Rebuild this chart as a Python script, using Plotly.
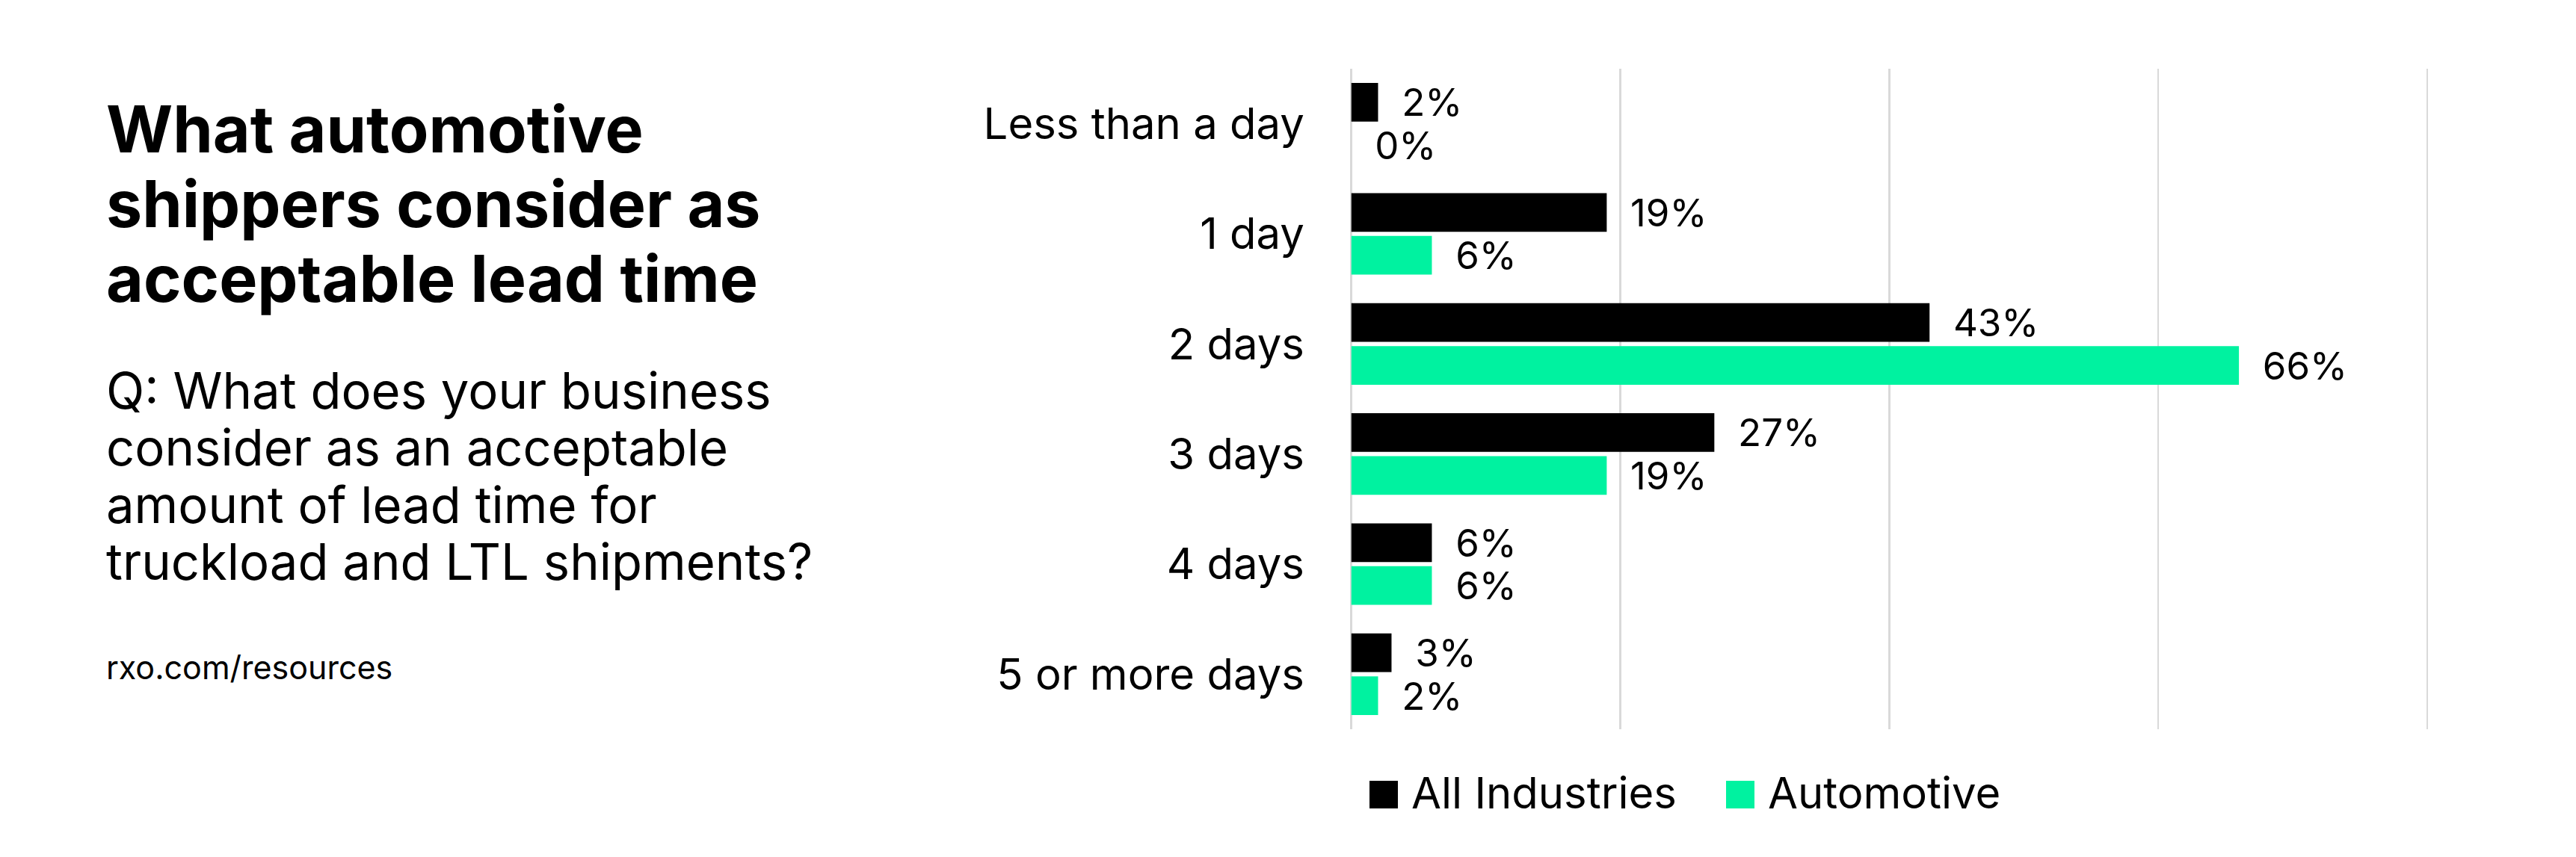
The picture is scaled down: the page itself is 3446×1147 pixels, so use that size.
import plotly.graph_objects as go

W, H = 3446, 1147

categories = ["Less than a day", "1 day", "2 days", "3 days", "4 days", "5 or more days"]
all_industries = [2, 19, 43, 27, 6, 3]
automotive = [0, 6, 66, 19, 6, 2]
series_names = ["All Industries", "Automotive"]
series_colors = ["#000000", "#00F2A0"]
x_ticks = [0, 20, 40, 60, 80]

title_lines = ["What automotive", "shippers consider as", "acceptable lead time"]
subtitle_lines = ["Q: What does your business", "consider as an acceptable",
                  "amount of lead time for", "truckload and LTL shipments?"]
source_text = "rxo.com/resources"

FONT = "Inter"

def px(x):
    return x / W

def py(y):
    return 1 - y / H

X_MAX = 80.3
X0_PX = 1807.5
PX_PER_UNIT = (3247 - 1807.5) / 80.0

fig = go.Figure()
for name, vals, col in zip(series_names, [all_industries, automotive], series_colors):
    fig.add_trace(go.Bar(
        y=categories, x=vals, name=name, orientation="h",
        marker=dict(color=col, line=dict(width=0)),
        texttemplate="\u00a0\u00a0%{x}%", textposition="outside",
        constraintext="none",
        textfont=dict(family=FONT, size=51, color="#000000"),
        cliponaxis=False, showlegend=False,
    ))

ann = []
for i, line in enumerate(title_lines):
    ann.append(dict(text=f"<b>{line}</b>", x=px(140), y=py(173 + 100 * i),
                    xref="paper", yref="paper", xanchor="left", yanchor="middle",
                    showarrow=False, font=dict(family=FONT, size=86, color="#000000")))
for i, line in enumerate(subtitle_lines):
    ann.append(dict(text=line, x=px(140), y=py(522 + 76.5 * i),
                    xref="paper", yref="paper", xanchor="left", yanchor="middle",
                    showarrow=False, font=dict(family=FONT, size=67, color="#000000")))
ann.append(dict(text=source_text, x=px(140), y=py(893),
                xref="paper", yref="paper", xanchor="left", yanchor="middle",
                showarrow=False, font=dict(family=FONT, size=43, color="#000000")))

shapes = []
leg_x = [1832, 2309]
for name, col, lx in zip(series_names, series_colors, leg_x):
    shapes.append(dict(type="rect", xref="paper", yref="paper",
                       x0=px(lx), x1=px(lx + 38), y0=py(1082), y1=py(1045),
                       fillcolor=col, line=dict(width=0)))
    ann.append(dict(text=name, x=px(lx + 54), y=py(1061),
                    xref="paper", yref="paper", xanchor="left", yanchor="middle",
                    showarrow=False, font=dict(family=FONT, size=58, color="#000000")))

fig.update_layout(
    width=W, height=H,
    margin=dict(l=0, r=0, t=0, b=0),
    paper_bgcolor="white", plot_bgcolor="white",
    barmode="group", bargap=0.22, bargroupgap=0.1,
    annotations=ann, shapes=shapes,
    showlegend=False,
    xaxis=dict(domain=[px(X0_PX), px(X0_PX + X_MAX * PX_PER_UNIT)], range=[0, X_MAX],
               tickvals=x_ticks, showticklabels=False,
               showgrid=True, gridcolor="#D9D9D9", gridwidth=2.6,
               zeroline=True, zerolinecolor="#D9D9D9", zerolinewidth=2.6,
               showline=False, fixedrange=True),
    yaxis=dict(domain=[py(976), py(92)], autorange="reversed",
               categoryorder="array", categoryarray=categories,
               showgrid=False, zeroline=False, showline=False,
               ticks="outside", ticklen=0, ticklabelstandoff=50,
               tickfont=dict(family=FONT, size=58, color="#000000"),
               automargin=False, fixedrange=True),
)

fig.write_html("out.html", config={"displayModeBar": False, "staticPlot": True},
               post_script="document.body.style.margin='0';document.body.style.overflow='hidden';")
